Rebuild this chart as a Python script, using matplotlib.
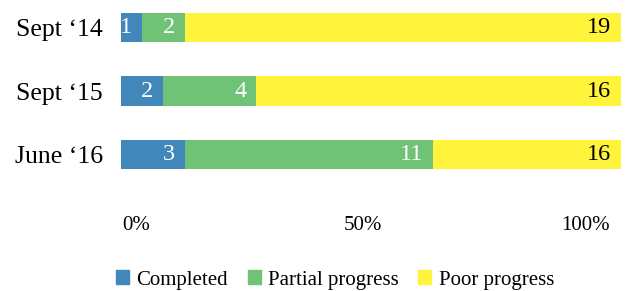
import matplotlib.pyplot as plt
from matplotlib.patches import Patch
from matplotlib.transforms import offset_copy

categories = ["Sept \u201814", "Sept \u201815", "June \u201816"]
series_names = ["Completed", "Partial progress", "Poor progress"]
colors = ["#4287b9", "#70c277", "#fff33b"]
label_colors = ["white", "white", "black"]

# bar shares in percent, as drawn
completed_pct = [4.2, 8.4, 12.8]
partial_pct = [8.6, 18.6, 49.5]
poor_pct = [87.2, 73.0, 37.7]

# counts written on the bars
completed_n = [1, 2, 3]
partial_n = [2, 4, 11]
poor_n = [19, 16, 16]

tick_pos = [0, 50, 100]
tick_labels = ["0%", "50%", "100%"]

plt.rcParams["font.family"] = ["Liberation Serif", "DejaVu Serif"]

fig = plt.figure(figsize=(6.33, 2.91), dpi=100)
ax = fig.add_axes([121 / 633, 122 / 291, 500 / 633, 156 / 291])

shares = [completed_pct, partial_pct, poor_pct]
counts = [completed_n, partial_n, poor_n]
ypos = list(range(len(categories)))
left = [0.0] * len(categories)
for s in range(3):
    ax.barh(ypos, shares[s], left=left, height=0.46, color=colors[s], linewidth=0)
    for i in ypos:
        end = left[i] + shares[s][i]
        tr = offset_copy(ax.transData, fig=fig, x=-7, y=0, units="points")
        ax.text(end, i, str(counts[s][i]), transform=tr, ha="right", va="center",
                color=label_colors[s], fontsize=17.5)
        left[i] = end

ax.set_xlim(0, 100)
ax.set_ylim(2.23, -0.23)
ax.set_yticks(ypos)
ax.set_yticklabels(categories, fontsize=18.5)
ax.set_xticks([])
ax.tick_params(axis="y", length=0, pad=13)
for sp in ax.spines.values():
    sp.set_visible(False)

# percent labels under the bars, nudged to match the reference
base = ax.get_xaxis_transform()
for x, lab, ha, dx in zip(tick_pos, tick_labels, ["left", "center", "right"], [1, -8, -11]):
    tr = offset_copy(base, fig=fig, x=dx * 0.72, y=-56 * 0.72, units="points")
    ax.text(x, 0, lab, transform=tr, ha=ha, va="center", fontsize=15)

handles = [Patch(color=c, label=n) for c, n in zip(colors, series_names)]
fig.legend(handles=handles, loc="center", bbox_to_anchor=(335 / 633, 11 / 291), ncol=3,
           frameon=False, fontsize=15, handlelength=0.62, handleheight=0.62,
           handletextpad=0.35, columnspacing=0.95, borderaxespad=0)

fig.savefig("out.png", dpi=100)
